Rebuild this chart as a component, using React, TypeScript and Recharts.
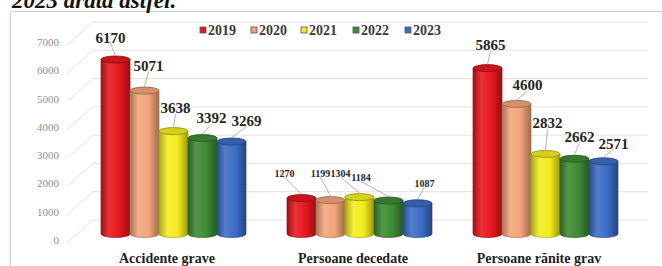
import { Bar, BarChart, CartesianGrid, LabelList, XAxis, YAxis } from "recharts";

const CATEGORIES = ["Accidente grave", "Persoane decedate", "Persoane rănite grav"];
const YEARS = ["2019", "2020", "2021", "2022", "2023"];
const V2019 = [6170, 1270, 5865];
const V2020 = [5071, 1199, 4600];
const V2021 = [3638, 1304, 2832];
const V2022 = [3392, 1184, 2662];
const V2023 = [3269, 1087, 2571];
const Y_TICKS = [0, 1000, 2000, 3000, 4000, 5000, 6000, 7000];

const SERIES = [V2019, V2020, V2021, V2022, V2023];
const COLORS = ["#e5171d", "#f2a47a", "#f2ec1c", "#3d8a33", "#3a6cc4"];

// where each value label sits, relative to the top of its bar (dx, dy)
const LABEL_NUDGE = [
  [[-5, -22], [-17, -25], [3, -23]],
  [[4, -25], [-10, -27], [11, -19]],
  [[2, -23], [-19, -24], [2, -31]],
  [[9, -20], [-27.5, -23], [5, -22]],
  [[15, -21], [7, -20], [10, -18]],
];

const data = CATEGORIES.map((name, i) => {
  const row: Record<string, string | number> = { name };
  YEARS.forEach((y, s) => (row["y" + y] = SERIES[s][i]));
  return row;
});

const SERIF = '"Liberation Serif", "Times New Roman", serif';
const GRID_SHIFT = 14;
const Y_MAX = 7000;

function shade(hex: string, f: number) {
  const n = parseInt(hex.slice(1), 16);
  const ch = [(n >> 16) & 255, (n >> 8) & 255, n & 255].map((c) =>
    Math.round(f < 0 ? c * (1 + f) : c + (255 - c) * f)
  );
  return "#" + ch.map((c) => c.toString(16).padStart(2, "0")).join("");
}

// the axis scale object changed shape across recharts 3.x releases
function scaleY(yAxis: any, offset: any, v: number) {
  const s = yAxis?.scale;
  if (typeof s === "function") return s(v);
  if (s && typeof s.map === "function") return s.map(v);
  if (s && typeof s.scale === "function") return s.scale(v);
  return offset.top + offset.height * (1 - v / Y_MAX);
}

function Cylinder(props: any) {
  const { x, y, width, height, idx } = props;
  if (width == null || height == null) return null;
  const rx = width / 2;
  const ry = 3.5;
  const yb = y + height;
  const c = COLORS[idx];
  return (
    <g>
      <path
        d={`M${x},${y} L${x},${yb} A${rx},${ry} 0 0 0 ${x + width},${yb} L${x + width},${y} Z`}
        fill={`url(#cyl${idx})`}
        stroke={shade(c, -0.3)}
        strokeWidth={0.7}
      />
      <ellipse cx={x + rx} cy={y} rx={rx} ry={ry} fill={shade(c, -0.12)} stroke={shade(c, -0.4)} strokeWidth={0.8} />
    </g>
  );
}

function ValueLabel(props: any) {
  const { x, y, width, value, index, idx } = props;
  const [dx, dy] = LABEL_NUDGE[idx][index];
  const fs = index === 1 ? 10 : 15;
  const cx = x + width / 2;
  const lx = cx + dx;
  const ly = y + dy;
  const gap = y - 4 - (ly + fs * 0.4);
  return (
    <g>
      {gap > 4 && <line x1={lx} y1={ly + fs * 0.4} x2={cx} y2={y - 4} stroke="#a0a0a0" strokeWidth={0.8} />}
      <text x={lx} y={ly + fs * 0.35} textAnchor="middle" fontFamily={SERIF} fontWeight="bold" fontSize={fs} fill="#262626">
        {value}
      </text>
    </g>
  );
}

function YTick(props: any) {
  const { x, y, payload } = props;
  const tx = x - 13;
  return (
    <g>
      <line x1={tx + 8} y1={y + 9} x2={93} y2={y - GRID_SHIFT} stroke="#e3e3e3" strokeWidth={1} />
      <text x={tx} y={y + 10} textAnchor="end" fontFamily={SERIF} fontSize={11} fill="#8e8e8e">
        {payload.value}
      </text>
    </g>
  );
}

function XTick(props: any) {
  const { x, y, payload } = props;
  return (
    <text x={x - 6} y={y + 21} textAnchor="middle" fontFamily={SERIF} fontWeight="bold" fontSize={14} fill="#1e1e1e">
      {payload.value}
    </text>
  );
}

const LEGEND_X = [200, 251, 301, 353, 405];

export default function App() {
  return (
    <div style={{ position: "absolute", left: 0, top: 0, width: 662, height: 266, overflow: "hidden", background: "#fff" }}>
      <div
        style={{
          position: "absolute",
          left: 10,
          top: 11,
          width: 720,
          height: 320,
          border: "1px solid #d4d4d4",
          boxShadow: "1px 1px 4px rgba(0,0,0,0.18)",
          background: "#fff",
        }}
      />
      <div style={{ position: "absolute", left: 0, top: 0 }}>
        <BarChart
          width={662}
          height={266}
          data={data}
          margin={{ top: 36, right: 24, bottom: 2, left: 40 }}
          barSize={29}
          barGap={0}
        >
          <defs>
            {COLORS.map((c, i) => (
              <linearGradient key={i} id={`cyl${i}`} x1="0" y1="0" x2="1" y2="0">
                <stop offset="0" stopColor={shade(c, -0.3)} />
                <stop offset="0.28" stopColor={shade(c, 0.12)} />
                <stop offset="0.65" stopColor={c} />
                <stop offset="1" stopColor={shade(c, -0.35)} />
              </linearGradient>
            ))}
          </defs>
          <CartesianGrid
            vertical={false}
            stroke="#e2e2e2"
            x={93}
            width={555}
            horizontalCoordinatesGenerator={({ yAxis, offset }: any) =>
              Y_TICKS.map((v) => scaleY(yAxis, offset, v) - GRID_SHIFT)
            }
          />
          <XAxis dataKey="name" axisLine={false} tickLine={false} tick={<XTick />} height={30} interval={0} />
          <YAxis
            domain={[0, Y_MAX]}
            ticks={Y_TICKS}
            axisLine={false}
            tickLine={false}
            width={40}
            tick={<YTick />}
            interval={0}
          />
          {YEARS.map((yr, i) => (
            <Bar
              key={yr}
              dataKey={"y" + yr}
              name={yr}
              fill={COLORS[i]}
              isAnimationActive={false}
              shape={(p: any) => <Cylinder {...p} idx={i} />}
            >
              <LabelList dataKey={"y" + yr} content={(p: any) => <ValueLabel {...p} idx={i} />} />
            </Bar>
          ))}
        </BarChart>
      </div>
      <svg width={662} height={266} style={{ position: "absolute", left: 0, top: 0, pointerEvents: "none" }}>
        <text x={12} y={8} fontFamily={SERIF} fontWeight="bold" fontStyle="italic" fontSize={23} fill="#111">
          2023 arată astfel.
        </text>
        {YEARS.map((yr, i) => (
          <g key={yr}>
            <rect x={LEGEND_X[i]} y={27} width={6} height={6} fill={COLORS[i]} stroke="#555" strokeWidth={0.8} />
            <text x={LEGEND_X[i] + 8} y={35} fontFamily={SERIF} fontWeight="bold" fontSize={14} fill="#3a3a32">
              {yr}
            </text>
          </g>
        ))}
      </svg>
    </div>
  );
}
